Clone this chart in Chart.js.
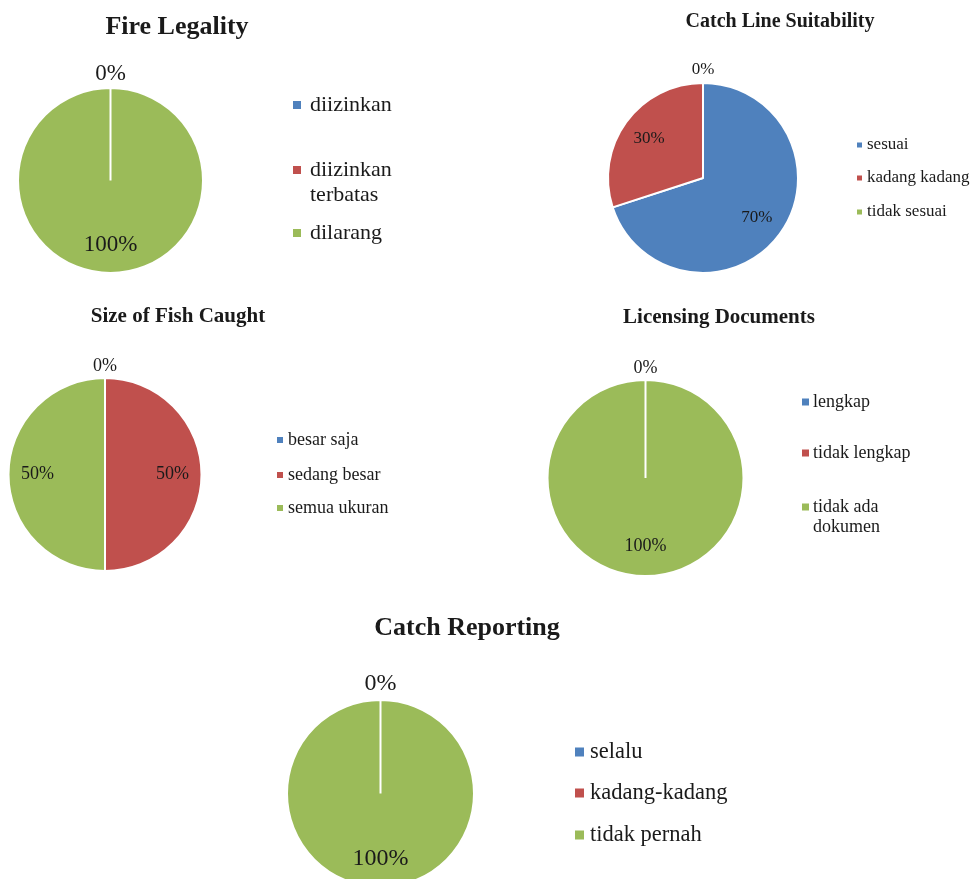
<!DOCTYPE html>
<html>
<head>
<meta charset="utf-8">
<script src="https://cdn.jsdelivr.net/npm/chart.js@4.4.1/dist/chart.umd.min.js"></script>
<style>
  html, body { margin: 0; padding: 0; background: #fff; }
  #page { position: relative; width: 972px; height: 879px; overflow: hidden; }
  #page canvas { position: absolute; left: 0; top: 0; }
</style>
</head>
<body>
<div id="page"></div>
<script>
const blue =  '#4F81BD'
const red =   '#C0504D'
const green = '#9BBB59'
const ink =   '#1a1a1a'

// ---- data ----
const fireTitle = 'Fire Legality'
const fireLabels = ['diizinkan', ['diizinkan', 'terbatas'], 'dilarang']
const fireValues = [0, 0, 100]

const lineTitle = 'Catch Line Suitability'
const lineLabels = ['sesuai', 'kadang kadang', 'tidak sesuai']
const lineValues = [70, 30, 0]

const sizeTitle = 'Size of Fish Caught'
const sizeLabels = ['besar saja', 'sedang besar', 'semua ukuran']
const sizeValues = [0, 50, 50]

const docTitle = 'Licensing Documents'
const docLabels = ['lengkap', 'tidak lengkap', ['tidak ada', 'dokumen']]
const docValues = [0, 0, 100]

const reportTitle = 'Catch Reporting'
const reportLabels = ['selalu', 'kadang-kadang', 'tidak pernah']
const reportValues = [0, 0, 100]

// ---- layout (positions / sizes only) ----
const W = 972, H = 879
const serif = '"Liberation Serif", "Times New Roman", serif'
const panels = [
    {title: fireTitle, labels: fireLabels, values: fireValues,
     cx: 110.5, cy: 180.5, r: 92.5, titleX: 177, titleY: 27, titleSize: 26,
     labelSize: 23, zeroGap: 14, legendX: 293, square: 8, textGap: 9, legendSize: 22, lineGap: 25,
     legendY: [105, 170, 233]},
    {title: lineTitle, labels: lineLabels, values: lineValues,
     cx: 703, cy: 178, r: 95, titleX: 780, titleY: 22, titleSize: 20,
     labelSize: 17, zeroGap: 13, legendX: 857, square: 5, textGap: 5, legendSize: 17, lineGap: 20,
     legendY: [145, 178, 212]},
    {title: sizeTitle, labels: sizeLabels, values: sizeValues,
     cx: 105, cy: 474.5, r: 96.5, titleX: 178, titleY: 317, titleSize: 21,
     labelSize: 18, zeroGap: 12, legendX: 277, square: 6, textGap: 5, legendSize: 18, lineGap: 20,
     legendY: [440, 475, 508]},
    {title: docTitle, labels: docLabels, values: docValues,
     cx: 645.5, cy: 478, r: 98, titleX: 719, titleY: 318, titleSize: 21,
     labelSize: 18, zeroGap: 12, legendX: 802, square: 7, textGap: 4, legendSize: 18, lineGap: 20,
     legendY: [402, 453, 507]},
    {title: reportTitle, labels: reportLabels, values: reportValues,
     cx: 380.5, cy: 793.5, r: 93.5, titleX: 467, titleY: 628, titleSize: 26,
     labelSize: 24, zeroGap: 16, legendX: 575, square: 9, textGap: 6, legendSize: 22.5, lineGap: 25,
     legendY: [752, 793, 835]},
]

// percent labels, title and legend drawn on top of the pie
const pieText = {
    id: 'pieText',
    afterDraw(chart, args, opts) {
        const ctx = chart.ctx
        const meta = chart.getDatasetMeta(0)
        const ds = chart.data.datasets[0]
        const values = ds.data
        const total = values.reduce((a, b) => a + b, 0)
        ctx.save()
        ctx.fillStyle = ink
        ctx.textAlign = 'center'
        ctx.textBaseline = 'middle'
        ctx.font = opts.labelSize + 'px ' + serif
        const seen = new Set()
        meta.data.forEach((arc, i) => {
            const p = arc.getProps(['x', 'y', 'startAngle', 'endAngle', 'outerRadius'], true)
            const mid = (p.startAngle + p.endAngle) / 2
            //zero slices get their label just outside the rim
            const dist = values[i] === 0 ? p.outerRadius + opts.zeroGap : p.outerRadius * 0.7
            const x = p.x + Math.cos(mid) * dist
            const y = p.y + Math.sin(mid) * dist
            const key = Math.round(x) + ',' + Math.round(y)
            if (seen.has(key)) return
            seen.add(key)
            ctx.fillText(Math.round(values[i] / total * 100) + '%', x, y)
        })
        //Title
        ctx.font = 'bold ' + opts.titleSize + 'px ' + serif
        ctx.fillText(opts.title, opts.titleX, opts.titleY)
        //Legend
        ctx.textAlign = 'left'
        ctx.font = opts.legendSize + 'px ' + serif
        chart.data.labels.forEach((lab, i) => {
            const y = opts.legendY[i]
            const s = opts.square
            ctx.fillStyle = ds.backgroundColor[i]
            ctx.fillRect(opts.legendX, y - s / 2, s, s)
            ctx.fillStyle = ink
            const lines = Array.isArray(lab) ? lab : [lab]
            lines.forEach((t, k) => ctx.fillText(t, opts.legendX + s + opts.textGap, y + k * opts.lineGap))
        })
        ctx.restore()
    }
}

const page = document.getElementById('page')
for (const p of panels) {
    const canvas = document.createElement('canvas')
    canvas.width = W
    canvas.height = H
    page.appendChild(canvas)
    const half = 40
    new Chart(canvas, {
        type: 'pie',
        data: {
            labels: p.labels,
            datasets: [{
                data: p.values,
                backgroundColor: [blue, red, green],
                borderColor: '#ffffff',
                borderWidth: 2,
                radius: p.r,
                clip: false,
            }]
        },
        options: {
            responsive: false,
            animation: false,
            events: [],
            layout: {
                padding: {
                    left: p.cx - half, right: W - p.cx - half,
                    top: p.cy - half, bottom: H - p.cy - half
                }
            },
            plugins: {
                legend: {display: false},
                tooltip: {enabled: false},
                title: {display: false},
                pieText: p
            }
        },
        plugins: [pieText]
    })
}
</script>
</body>
</html>
